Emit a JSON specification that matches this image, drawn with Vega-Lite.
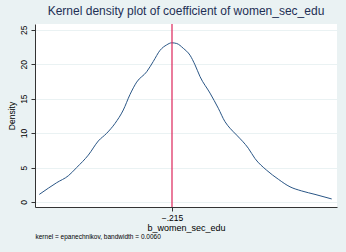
{
  "$schema": "https://vega.github.io/schema/vega-lite/v6.json",
  "autosize": "none",
  "width": 302,
  "height": 183,
  "padding": {"left": 35, "top": 24, "right": 9, "bottom": 45},
  "background": "#eaf2f3",
  "view": {"fill": "white", "stroke": null},
  "config": {
    "font": "Liberation Sans",
    "axis": {"labelFont": "Liberation Sans", "titleFont": "Liberation Sans", "titleFontWeight": "normal", "labelColor": "#000000", "titleColor": "#000000"}
  },
  "title": {
    "text": "Kernel density plot of coefficient of women_sec_edu",
    "fontSize": 12,
    "fontWeight": "normal",
    "color": "#1e2f55",
    "anchor": "middle",
    "offset": 5
  },
  "datasets": {
    "kd": [
      {"b": -0.24154, "d": 1.1},
      {"b": -0.23974, "d": 2.0},
      {"b": -0.23806, "d": 2.8},
      {"b": -0.23574, "d": 3.8},
      {"b": -0.23406, "d": 5.0},
      {"b": -0.23174, "d": 6.8},
      {"b": -0.22974, "d": 8.85},
      {"b": -0.22806, "d": 9.97},
      {"b": -0.2264, "d": 11.4},
      {"b": -0.22474, "d": 13.35},
      {"b": -0.2234, "d": 15.6},
      {"b": -0.22206, "d": 17.4},
      {"b": -0.22006, "d": 18.9},
      {"b": -0.21874, "d": 20.4},
      {"b": -0.2174, "d": 22.0},
      {"b": -0.21606, "d": 22.8},
      {"b": -0.21506, "d": 23.1},
      {"b": -0.21406, "d": 23.0},
      {"b": -0.21274, "d": 22.3},
      {"b": -0.2114, "d": 21.3},
      {"b": -0.2104, "d": 19.9},
      {"b": -0.2094, "d": 18.2},
      {"b": -0.2074, "d": 15.8},
      {"b": -0.20574, "d": 13.6},
      {"b": -0.2044, "d": 11.65},
      {"b": -0.2034, "d": 10.7},
      {"b": -0.20206, "d": 9.7},
      {"b": -0.19974, "d": 7.8},
      {"b": -0.1984, "d": 6.3},
      {"b": -0.19606, "d": 4.6},
      {"b": -0.19374, "d": 3.3},
      {"b": -0.1914, "d": 2.2},
      {"b": -0.18906, "d": 1.6},
      {"b": -0.1864, "d": 1.1},
      {"b": -0.18306, "d": 0.44}
    ],
    "ref": [{"b": -0.215}]
  },
  "layer": [
    {
      "data": {"name": "kd"},
      "mark": {"type": "line", "color": "#2a5686", "strokeWidth": 1, "interpolate": "monotone"},
      "encoding": {
        "x": {
          "field": "b", "type": "quantitative",
          "scale": {"domain": [-0.2424, -0.182], "nice": false, "zero": false},
          "axis": {
            "orient": "bottom",
            "values": [-0.215], "format": ".3f", "labelExpr": "replace(datum.label, '0.', '.')",
            "grid": false, "title": "b_women_sec_edu", "titleFontSize": 9, "labelFontSize": 8.5,
            "domainColor": "#333333", "tickColor": "#333333", "tickSize": 4, "labelPadding": 2, "titlePadding": 2
          }
        },
        "y": {
          "field": "d", "type": "quantitative",
          "scale": {"domain": [-0.73, 25.83], "nice": false, "zero": false},
          "axis": {
            "values": [0, 5, 10, 15, 20, 25], "labelAngle": -90, "labelAlign": "center", "labelBaseline": "bottom",
            "labelFontSize": 8.5, "labelPadding": 3, "title": "Density", "titleFontSize": 8.5, "titlePadding": 3,
            "gridColor": "#eaf2f3", "gridWidth": 1, "domainColor": "#333333", "tickColor": "#333333", "tickSize": 4
          }
        }
      }
    },
    {
      "data": {"name": "ref"},
      "mark": {"type": "rule", "color": "#dc2459", "strokeWidth": 1.2},
      "encoding": {
        "x": {
          "field": "b", "type": "quantitative",
          "axis": {
            "orient": "bottom",
            "labels": false, "ticks": false, "domain": false, "grid": false,
            "title": "kernel = epanechnikov, bandwidth = 0.0060", "titleFontSize": 6.5,
            "titleAnchor": "start", "titleAlign": "left", "titleBaseline": "top", "titlePadding": 0, "offset": 26
          }
        }
      }
    }
  ],
  "resolve": {"axis": {"x": "independent"}}
}
